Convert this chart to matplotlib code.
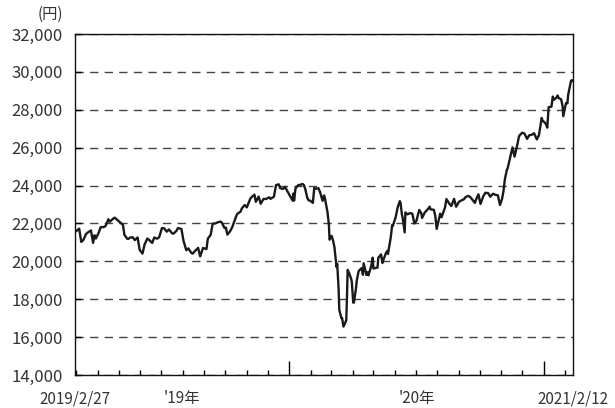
import numpy as np
import pandas as pd
import matplotlib
matplotlib.use("Agg")
import matplotlib.pyplot as plt

plt.rcParams['font.family'] = ['Noto Sans CJK JP', 'DejaVu Sans']

# ===============================
# Data (closing prices, yen)
# ===============================
dates_2019 = ["2019-02-27", "2019-03-01", "2019-03-05", "2019-03-08", "2019-03-11", "2019-03-13",
              "2019-03-15", "2019-03-19", "2019-03-22", "2019-03-25", "2019-03-27", "2019-03-29",
              "2019-04-02", "2019-04-05", "2019-04-09", "2019-04-12", "2019-04-16", "2019-04-18",
              "2019-04-23", "2019-04-25", "2019-05-07", "2019-05-09", "2019-05-13", "2019-05-15",
              "2019-05-17", "2019-05-21", "2019-05-24", "2019-05-28", "2019-05-31", "2019-06-04",
              "2019-06-07", "2019-06-11", "2019-06-14", "2019-06-18", "2019-06-21", "2019-06-25",
              "2019-06-28", "2019-07-02", "2019-07-05", "2019-07-09", "2019-07-12", "2019-07-17",
              "2019-07-19", "2019-07-23", "2019-07-25", "2019-07-30", "2019-08-02", "2019-08-06",
              "2019-08-09", "2019-08-13", "2019-08-15", "2019-08-19", "2019-08-23", "2019-08-26",
              "2019-08-28", "2019-08-30", "2019-09-04", "2019-09-06", "2019-09-10", "2019-09-13",
              "2019-09-17", "2019-09-19", "2019-09-24", "2019-09-26", "2019-09-30", "2019-10-02",
              "2019-10-04", "2019-10-08", "2019-10-11", "2019-10-15", "2019-10-18", "2019-10-23",
              "2019-10-25", "2019-10-29", "2019-11-01", "2019-11-06", "2019-11-08", "2019-11-12",
              "2019-11-14", "2019-11-18", "2019-11-21", "2019-11-25", "2019-11-29", "2019-12-03",
              "2019-12-05", "2019-12-10", "2019-12-13", "2019-12-17", "2019-12-19", "2019-12-23",
              "2019-12-26", "2019-12-30"]
close_2019 = [21556, 21602, 21726, 21025, 21125, 21290,
              21450, 21566, 21627, 20977, 21378, 21205,
              21505, 21807, 21802, 21870, 22221, 22090,
              22259, 22307, 21923, 21402, 21191, 21189,
              21250, 21272, 21117, 21260, 20601, 20408,
              20884, 21204, 21116, 20972, 21258, 21193,
              21275, 21754, 21746, 21565, 21685, 21469,
              21466, 21620, 21756, 21709, 21087, 20585,
              20685, 20455, 20405, 20563, 20711, 20261,
              20479, 20704, 20649, 21199, 21392, 21988,
              22001, 22044, 22098, 22048, 21756, 21778,
              21410, 21588, 21799, 22208, 22492, 22625,
              22800, 22974, 22850, 23303, 23392, 23520,
              23141, 23416, 23038, 23292, 23294, 23380,
              23300, 23410, 24023, 24066, 23864, 23821,
              23924, 23656]

dates_2020 = ["2020-01-06", "2020-01-07", "2020-01-08", "2020-01-10", "2020-01-14", "2020-01-17",
              "2020-01-20", "2020-01-22", "2020-01-24", "2020-01-27", "2020-01-29", "2020-01-31",
              "2020-02-04", "2020-02-06", "2020-02-07", "2020-02-12", "2020-02-14", "2020-02-18",
              "2020-02-20", "2020-02-21", "2020-02-25", "2020-02-27", "2020-02-28", "2020-03-02",
              "2020-03-04", "2020-03-06", "2020-03-09", "2020-03-10", "2020-03-12", "2020-03-13",
              "2020-03-16", "2020-03-17", "2020-03-19", "2020-03-23", "2020-03-24", "2020-03-25",
              "2020-03-27", "2020-03-30", "2020-03-31", "2020-04-02", "2020-04-03", "2020-04-06",
              "2020-04-07", "2020-04-09", "2020-04-10", "2020-04-14", "2020-04-16", "2020-04-17",
              "2020-04-21", "2020-04-23", "2020-04-24", "2020-04-28", "2020-04-30", "2020-05-01",
              "2020-05-07", "2020-05-08", "2020-05-12", "2020-05-14", "2020-05-15", "2020-05-19",
              "2020-05-21", "2020-05-22", "2020-05-26", "2020-05-28", "2020-05-29", "2020-06-02",
              "2020-06-04", "2020-06-05", "2020-06-08", "2020-06-09", "2020-06-11", "2020-06-12",
              "2020-06-15", "2020-06-16", "2020-06-19", "2020-06-23", "2020-06-26", "2020-06-29",
              "2020-07-02", "2020-07-03", "2020-07-06", "2020-07-09", "2020-07-10", "2020-07-14",
              "2020-07-17", "2020-07-21", "2020-07-22", "2020-07-27", "2020-07-29", "2020-07-31",
              "2020-08-03", "2020-08-05", "2020-08-07", "2020-08-12", "2020-08-14", "2020-08-18",
              "2020-08-21", "2020-08-25", "2020-08-28", "2020-09-01", "2020-09-04", "2020-09-08",
              "2020-09-11", "2020-09-15", "2020-09-18", "2020-09-24", "2020-09-25", "2020-09-29",
              "2020-10-02", "2020-10-06", "2020-10-09", "2020-10-13", "2020-10-16", "2020-10-20",
              "2020-10-23", "2020-10-27", "2020-10-30", "2020-11-02", "2020-11-04", "2020-11-06",
              "2020-11-09", "2020-11-10", "2020-11-13", "2020-11-17", "2020-11-20", "2020-11-24",
              "2020-11-26", "2020-11-27", "2020-12-01", "2020-12-04", "2020-12-08", "2020-12-11",
              "2020-12-15", "2020-12-18", "2020-12-22", "2020-12-25", "2020-12-29", "2020-12-30"]
close_2020 = [23204, 23575, 23205, 23850, 24025, 24041,
              24083, 24031, 23827, 23344, 23216, 23205,
              23085, 23874, 23828, 23861, 23688, 23194,
              23479, 23386, 22606, 21948, 21142, 21344,
              21100, 20750, 19699, 19867, 18560, 17431,
              17002, 17012, 16553, 16888, 18092, 19546,
              19389, 19084, 18917, 17819, 17820, 18576,
              18950, 19346, 19498, 19639, 19291, 19897,
              19281, 19429, 19262, 19772, 20194, 19620,
              19674, 20179, 20367, 19915, 20037, 20433,
              20552, 20388, 21272, 21916, 21878, 22326,
              22696, 22864, 23178, 23091, 22473, 22306,
              21530, 22582, 22479, 22549, 22512, 21995,
              22146, 22306, 22714, 22529, 22291, 22587,
              22696, 22884, 22751, 22716, 22397, 21710,
              22196, 22514, 22329, 22844, 23289, 23051,
              22920, 23296, 22882, 23139, 23205, 23274,
              23406, 23455, 23360, 23087, 23205, 23539,
              23030, 23433, 23620, 23601, 23411, 23568,
              23517, 23485, 22977, 23295, 23695, 24325,
              24840, 24905, 25385, 26014, 25527, 26165,
              26537, 26644, 26788, 26751, 26467, 26652,
              26687, 26763, 26436, 26656, 27568, 27444]

dates_2021 = ["2021-01-04", "2021-01-06", "2021-01-08", "2021-01-12", "2021-01-14", "2021-01-15",
              "2021-01-19", "2021-01-21", "2021-01-22", "2021-01-26", "2021-01-28", "2021-01-29",
              "2021-02-02", "2021-02-04", "2021-02-05", "2021-02-09", "2021-02-10", "2021-02-12"]
close_2021 = [27258, 27056, 28139, 28164, 28698, 28519,
              28633, 28757, 28631, 28546, 28197, 27663,
              28362, 28341, 28779, 29505, 29562, 29520]

year_labels = ["'19年", "'20年"]
end_labels = ["2019/2/27", "2021/2/12"]

dates = pd.to_datetime(dates_2019 + dates_2020 + dates_2021)
close = np.array(close_2019 + close_2020 + close_2021)

# ===============================
# Plot
# ===============================
text_color = "#333333"
fig = plt.figure(figsize=(6.15, 4.08), dpi=100)
ax = fig.add_axes([75 / 615, 1 - 375 / 408, 498 / 615, 341 / 408])

ax.plot(dates, close, color="#1a1a1a", linewidth=1.7, zorder=3)

start, end = dates[0], dates[-1]
ax.set_xlim(start, end)
ax.set_ylim(14000, 32000)

ax.set_yticks(np.arange(14000, 32001, 2000))
ax.set_yticklabels([f"{v:,}" for v in range(14000, 32001, 2000)])
ax.yaxis.grid(True, linestyle=(0, (6, 4.5)), color="#444444", linewidth=1.0)
ax.tick_params(axis="y", direction="in", length=4.3, width=1, pad=9,
               labelsize=12, labelcolor=text_color)

# month ticks (minor) and year boundaries (major)
year_starts = pd.to_datetime(["2020-01-01", "2021-01-01"])
month_starts = pd.date_range("2019-03-01", "2021-02-01", freq="MS")
month_starts = month_starts[~month_starts.isin(year_starts)]
ax.set_xticks(year_starts)
ax.set_xticks(month_starts, minor=True)
ax.set_xticklabels([])
ax.set_xticklabels([], minor=True)
ax.tick_params(axis="x", which="major", direction="in", length=10, width=1)
ax.tick_params(axis="x", which="minor", direction="in", length=3.6, width=1)

for sp in ax.spines.values():
    sp.set_linewidth(1.0)
    sp.set_color("#111111")

# x labels: end dates and centered year labels
mid_19 = start + (year_starts[0] - start) / 2
mid_20 = year_starts[0] + (year_starts[1] - year_starts[0]) / 2
trans = ax.get_xaxis_transform()
for xpos, lab in zip([start, end], end_labels):
    ax.text(xpos, -0.045, lab, transform=trans, ha="center", va="top",
            fontsize=11, color=text_color)
for xpos, lab in zip([mid_19, mid_20], year_labels):
    ax.text(xpos, -0.045, lab, transform=trans, ha="center", va="top",
            fontsize=11, color=text_color)

fig.text(50 / 615, 1 - 14 / 408, "(円)", ha="center", va="center",
         fontsize=11, color=text_color)

fig.savefig("out.png", dpi=100)
